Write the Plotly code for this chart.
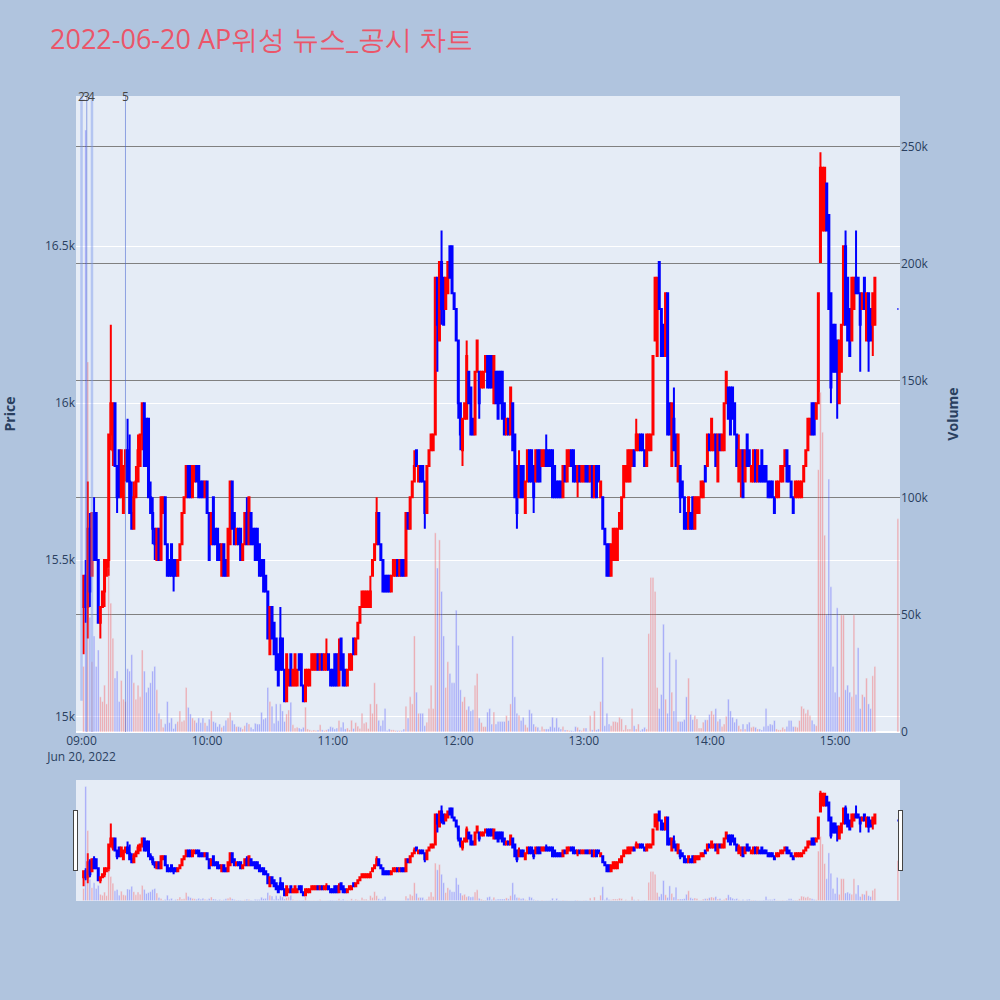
import pandas as pd
import plotly.graph_objects as go
from plotly.subplots import make_subplots

# 1-minute candles 09:01 ~ 15:19, plus the 15:30 closing auction
times = list(pd.date_range("2022-06-20 09:01", "2022-06-20 15:19", freq="min")) + [pd.Timestamp("2022-06-20 15:30")]

opens = [
    15350, 15450, 15350, 15600, 15450, 15650, 15650, 15500, 15300, 15350,
    15400, 15450, 15500, 15900, 15850, 16000, 15800, 15850, 15700, 15650,
    15800, 15850, 15750, 15650, 15600, 15700, 15750, 15800, 15900, 16000,
    15950, 15950, 15700, 15650, 15600, 15500, 15600, 15500, 15650, 15700,
    15550, 15500, 15550, 15500, 15500, 15450, 15500, 15550, 15650, 15700,
    15800, 15800, 15700, 15750, 15800, 15800, 15750, 15750, 15700, 15750,
    15650, 15550, 15700, 15600, 15600, 15550, 15450, 15550, 15500, 15450,
    15550, 15750, 15650, 15550, 15600, 15600, 15500, 15550, 15650, 15550,
    15650, 15600, 15600, 15600, 15550, 15500, 15500, 15450, 15400, 15200,
    15350, 15300, 15250, 15200, 15250, 15250, 15150, 15050, 15100, 15200,
    15100, 15100, 15100, 15200, 15200, 15100, 15050, 15100, 15100, 15150,
    15150, 15150, 15200, 15150, 15200, 15150, 15150, 15200, 15150, 15150,
    15200, 15200, 15100, 15250, 15200, 15150, 15100, 15150, 15150, 15250,
    15200, 15250, 15300, 15350, 15350, 15350, 15350, 15350, 15450, 15500,
    15550, 15650, 15550, 15500, 15450, 15450, 15450, 15400, 15450, 15450,
    15500, 15450, 15500, 15500, 15450, 15650, 15600, 15700, 15750, 15850,
    15750, 15800, 15800, 15750, 15650, 15800, 15850, 15850, 15900, 16400,
    16200, 16450, 16400, 16300, 16350, 16500, 16500, 16350, 16300, 16200,
    16000, 15850, 15950, 15950, 16100, 16050, 15950, 15900, 16100, 16100,
    16050, 16050, 16100, 16150, 16150, 16150, 16000, 16100, 16100, 16100,
    16100, 16000, 15900, 15950, 15900, 16000, 15900, 15800, 15700, 15800,
    15800, 15650, 15750, 15850, 15850, 15800, 15750, 15850, 15850, 15800,
    15800, 15850, 15850, 15850, 15850, 15800, 15750, 15750, 15750, 15700,
    15800, 15750, 15800, 15850, 15850, 15800, 15750, 15800, 15750, 15750,
    15800, 15800, 15750, 15800, 15700, 15800, 15800, 15700, 15700, 15600,
    15550, 15550, 15450, 15500, 15500, 15500, 15600, 15600, 15700, 15750,
    15750, 15750, 15800, 15850, 15850, 15850, 15900, 15900, 15850, 15800,
    15850, 15850, 15900, 16200, 16150, 16450, 16300, 16250, 16150, 16350,
    16000, 15800, 15950, 15900, 15750, 15800, 15750, 15700, 15650, 15600,
    15650, 15700, 15600, 15650, 15650, 15700, 15700, 15800, 15800, 15900,
    15850, 15850, 15900, 15750, 15900, 15850, 15850, 16000, 16050, 16050,
    16050, 16000, 15900, 15750, 15800, 15850, 15750, 15900, 15850, 15750,
    15750, 15850, 15750, 15800, 15850, 15800, 15800, 15750, 15750, 15750,
    15700, 15700, 15700, 15750, 15750, 15800, 15850, 15800, 15750, 15700,
    15700, 15700, 15700, 15700, 15750, 15800, 15850, 15900, 16000, 16000,
    15950, 16000, 16450, 16550, 16550, 16700, 16600, 16350, 16250, 16250,
    16200, 16000, 16100, 16250, 16500, 16400, 16300, 16200, 16300, 16400,
    16400, 16350, 16300, 16400, 16200, 16350, 16300, 16250, 16250,
    16300,
]

highs = [
    15450, 15500, 15750, 15650, 15650, 15700, 15650, 15500, 15350, 15400,
    15500, 15500, 15900, 16250, 16000, 16000, 15800, 15850, 15850, 15800,
    15850, 15950, 15900, 15750, 15750, 15800, 15900, 15900, 16000, 16000,
    15950, 15950, 15750, 15700, 15600, 15600, 15600, 15700, 15700, 15700,
    15550, 15500, 15550, 15500, 15500, 15500, 15550, 15650, 15700, 15800,
    15800, 15800, 15800, 15800, 15800, 15800, 15750, 15750, 15750, 15750,
    15650, 15650, 15700, 15600, 15600, 15550, 15550, 15550, 15500, 15600,
    15750, 15750, 15650, 15600, 15600, 15600, 15550, 15650, 15700, 15700,
    15650, 15600, 15600, 15600, 15550, 15500, 15500, 15450, 15400, 15350,
    15350, 15300, 15250, 15200, 15350, 15250, 15150, 15200, 15150, 15200,
    15150, 15200, 15150, 15200, 15200, 15100, 15150, 15150, 15150, 15200,
    15200, 15200, 15200, 15200, 15200, 15200, 15250, 15200, 15150, 15150,
    15200, 15200, 15250, 15250, 15200, 15150, 15150, 15200, 15200, 15250,
    15250, 15300, 15350, 15400, 15400, 15400, 15400, 15450, 15500, 15550,
    15700, 15650, 15550, 15500, 15450, 15450, 15450, 15450, 15500, 15500,
    15500, 15500, 15500, 15500, 15650, 15650, 15700, 15750, 15850, 15850,
    15800, 15800, 15800, 15750, 15800, 15850, 15900, 15900, 16400, 16400,
    16450, 16550, 16400, 16400, 16450, 16500, 16500, 16350, 16300, 16200,
    16000, 15950, 16000, 16200, 16100, 16050, 15950, 16100, 16200, 16100,
    16100, 16100, 16150, 16150, 16150, 16150, 16150, 16100, 16100, 16100,
    16100, 16000, 15950, 15950, 16050, 16000, 15900, 15800, 15850, 15800,
    15800, 15750, 15850, 15850, 15850, 15800, 15850, 15850, 15850, 15850,
    15850, 15900, 15850, 15850, 15850, 15800, 15750, 15750, 15750, 15800,
    15800, 15850, 15850, 15850, 15850, 15800, 15800, 15800, 15800, 15800,
    15800, 15800, 15800, 15800, 15800, 15800, 15800, 15750, 15700, 15600,
    15550, 15550, 15550, 15600, 15600, 15600, 15650, 15700, 15800, 15800,
    15850, 15850, 15850, 15850, 15950, 15900, 15900, 15900, 15850, 15900,
    15900, 15900, 16150, 16400, 16400, 16450, 16300, 16250, 16350, 16350,
    16000, 16000, 16050, 15900, 15900, 15800, 15750, 15700, 15650, 15700,
    15650, 15700, 15700, 15700, 15700, 15750, 15750, 15800, 15900, 15900,
    15950, 15900, 15900, 15900, 15900, 15900, 16000, 16100, 16050, 16050,
    16050, 16000, 15900, 15900, 15850, 15850, 15850, 15900, 15850, 15800,
    15850, 15850, 15850, 15800, 15850, 15800, 15800, 15750, 15750, 15750,
    15700, 15750, 15750, 15800, 15800, 15850, 15850, 15800, 15750, 15700,
    15750, 15750, 15750, 15750, 15800, 15850, 15950, 15950, 16000, 16000,
    16000, 16350, 16800, 16750, 16750, 16700, 16600, 16350, 16250, 16250,
    16200, 16200, 16250, 16500, 16550, 16400, 16300, 16400, 16400, 16550,
    16400, 16350, 16350, 16400, 16350, 16350, 16300, 16350, 16400,
    16300,
]

lows = [
    15200, 15300, 15250, 15350, 15450, 15500, 15500, 15300, 15250, 15350,
    15350, 15450, 15450, 15850, 15800, 15800, 15650, 15700, 15700, 15650,
    15750, 15750, 15650, 15600, 15600, 15700, 15750, 15800, 15850, 15800,
    15800, 15700, 15650, 15550, 15500, 15500, 15500, 15500, 15650, 15550,
    15450, 15450, 15450, 15400, 15450, 15450, 15500, 15550, 15650, 15700,
    15700, 15700, 15700, 15750, 15750, 15700, 15700, 15700, 15700, 15650,
    15500, 15550, 15550, 15550, 15500, 15500, 15450, 15450, 15450, 15450,
    15550, 15600, 15550, 15550, 15550, 15500, 15500, 15550, 15550, 15550,
    15550, 15550, 15500, 15500, 15450, 15450, 15400, 15400, 15250, 15200,
    15250, 15200, 15150, 15100, 15150, 15150, 15050, 15050, 15100, 15100,
    15100, 15100, 15100, 15150, 15100, 15050, 15050, 15100, 15100, 15150,
    15150, 15150, 15150, 15150, 15150, 15150, 15150, 15150, 15100, 15100,
    15100, 15100, 15100, 15150, 15100, 15100, 15100, 15150, 15150, 15200,
    15200, 15250, 15300, 15350, 15350, 15350, 15350, 15350, 15450, 15500,
    15550, 15550, 15500, 15400, 15400, 15400, 15400, 15400, 15450, 15450,
    15450, 15450, 15450, 15450, 15450, 15600, 15600, 15700, 15750, 15800,
    15750, 15750, 15750, 15600, 15650, 15800, 15850, 15850, 15900, 16100,
    16200, 16250, 16250, 16300, 16350, 16400, 16350, 16300, 16200, 15950,
    15850, 15800, 15950, 15950, 16000, 15900, 15900, 15900, 16100, 15950,
    16050, 16050, 16100, 16050, 16050, 16050, 16000, 16000, 15950, 16000,
    15950, 15900, 15900, 15900, 15900, 15850, 15700, 15600, 15700, 15700,
    15700, 15650, 15750, 15750, 15750, 15650, 15750, 15750, 15750, 15800,
    15800, 15800, 15800, 15800, 15700, 15700, 15700, 15700, 15700, 15700,
    15750, 15750, 15800, 15800, 15750, 15750, 15700, 15750, 15750, 15750,
    15750, 15750, 15750, 15700, 15700, 15700, 15750, 15700, 15600, 15550,
    15450, 15450, 15450, 15500, 15500, 15500, 15600, 15600, 15700, 15750,
    15750, 15750, 15800, 15800, 15850, 15850, 15850, 15850, 15800, 15800,
    15850, 15850, 15900, 16200, 16150, 16300, 16150, 16150, 16150, 15900,
    15900, 15800, 15850, 15800, 15750, 15650, 15700, 15600, 15600, 15600,
    15600, 15600, 15600, 15650, 15650, 15700, 15700, 15750, 15800, 15850,
    15850, 15850, 15800, 15750, 15850, 15850, 15850, 16000, 15950, 15900,
    15950, 15900, 15800, 15750, 15700, 15700, 15750, 15800, 15800, 15750,
    15750, 15750, 15750, 15750, 15750, 15750, 15750, 15700, 15700, 15700,
    15650, 15700, 15700, 15750, 15750, 15800, 15750, 15750, 15700, 15650,
    15700, 15700, 15700, 15700, 15750, 15800, 15850, 15900, 15900, 15900,
    15950, 16000, 16450, 16550, 16550, 16550, 16300, 16000, 16100, 16100,
    15950, 16000, 16100, 16250, 16250, 16200, 16150, 16200, 16300, 16350,
    16350, 16100, 16300, 16300, 16200, 16100, 16200, 16150, 16250,
    16300,
]

closes = [
    15450, 15350, 15600, 15400, 15650, 15500, 15500, 15300, 15350, 15400,
    15500, 15500, 15900, 16000, 16000, 15800, 15700, 15700, 15850, 15800,
    15850, 15750, 15650, 15600, 15700, 15750, 15850, 15900, 16000, 15800,
    15800, 15700, 15650, 15600, 15550, 15600, 15500, 15700, 15700, 15550,
    15450, 15450, 15450, 15450, 15450, 15500, 15550, 15650, 15700, 15800,
    15700, 15700, 15800, 15800, 15750, 15700, 15700, 15700, 15750, 15650,
    15500, 15650, 15550, 15550, 15500, 15500, 15550, 15450, 15450, 15600,
    15750, 15600, 15550, 15600, 15550, 15500, 15550, 15650, 15550, 15700,
    15550, 15550, 15500, 15500, 15450, 15450, 15400, 15400, 15250, 15350,
    15250, 15200, 15150, 15100, 15150, 15150, 15050, 15200, 15150, 15100,
    15150, 15200, 15150, 15150, 15100, 15050, 15150, 15150, 15150, 15200,
    15200, 15200, 15150, 15200, 15150, 15200, 15200, 15150, 15100, 15100,
    15100, 15100, 15200, 15150, 15100, 15100, 15150, 15200, 15200, 15200,
    15250, 15300, 15350, 15400, 15400, 15400, 15400, 15400, 15500, 15550,
    15650, 15550, 15500, 15400, 15400, 15400, 15400, 15450, 15500, 15500,
    15450, 15500, 15450, 15450, 15650, 15600, 15700, 15750, 15800, 15800,
    15800, 15750, 15750, 15650, 15800, 15850, 15900, 15900, 16400, 16250,
    16450, 16300, 16250, 16400, 16450, 16400, 16350, 16300, 16200, 16000,
    15900, 15950, 16000, 16150, 16000, 15900, 15900, 16100, 16200, 16000,
    16100, 16100, 16150, 16050, 16050, 16050, 16150, 16000, 15950, 16000,
    15950, 15900, 15950, 15900, 16050, 15850, 15700, 15650, 15800, 15700,
    15700, 15750, 15850, 15750, 15750, 15700, 15850, 15750, 15750, 15850,
    15850, 15800, 15800, 15800, 15700, 15700, 15700, 15700, 15700, 15800,
    15750, 15850, 15850, 15800, 15750, 15750, 15800, 15750, 15800, 15800,
    15750, 15750, 15800, 15700, 15800, 15700, 15750, 15750, 15600, 15550,
    15450, 15450, 15550, 15600, 15600, 15600, 15650, 15700, 15800, 15800,
    15850, 15850, 15850, 15800, 15900, 15900, 15850, 15850, 15800, 15900,
    15900, 15900, 16150, 16400, 16400, 16300, 16150, 16150, 16350, 15900,
    15900, 16000, 15850, 15800, 15900, 15700, 15700, 15600, 15600, 15700,
    15600, 15600, 15700, 15700, 15700, 15750, 15750, 15750, 15900, 15850,
    15950, 15900, 15800, 15900, 15850, 15900, 16000, 16100, 15950, 15900,
    15950, 15900, 15800, 15850, 15850, 15700, 15850, 15800, 15800, 15800,
    15850, 15750, 15850, 15750, 15750, 15750, 15750, 15700, 15700, 15700,
    15650, 15750, 15750, 15800, 15800, 15850, 15750, 15750, 15700, 15650,
    15750, 15750, 15750, 15750, 15800, 15850, 15950, 15950, 15900, 15900,
    16000, 16350, 16750, 16750, 16750, 16550, 16300, 16050, 16100, 16100,
    16100, 16200, 16250, 16500, 16250, 16200, 16150, 16400, 16400, 16350,
    16350, 16250, 16350, 16300, 16350, 16200, 16200, 16350, 16400,
    16300,
]

volumes = [
    28000, 257000, 158000, 49000, 30000, 41000, 28000, 35000, 15000, 13000,
    20000, 12000, 70000, 55000, 40000, 23000, 26000, 13000, 22000, 14000,
    13000, 27000, 26000, 33000, 21000, 14000, 20000, 15000, 35000, 26000,
    17000, 19000, 21000, 26000, 28000, 18000, 8000, 5500, 2000, 3500,
    13000, 4000, 6000, 1500, 3500, 4500, 9000, 4500, 5000, 19000,
    10500, 7700, 6000, 5000, 4000, 6000, 4000, 6000, 4000, 2700,
    5500, 9000, 4500, 4000, 2300, 3400, 2000, 2700, 5000, 6000,
    8400, 5000, 3400, 2300, 2300, 2000, 1300, 2700, 4000, 3400,
    2000, 1300, 3700, 3400, 3400, 8400, 5500, 6000, 19000, 13000,
    11000, 3700, 12000, 4800, 12000, 9000, 4500, 7700, 9400, 12700,
    3100, 1700, 2000, 1700, 1300, 2000, 10600, 1300, 900, 600,
    900, 600, 900, 3100, 900, 600, 900, 1300, 2300, 2000,
    1300, 1700, 4900, 2000, 4200, 1300, 1700, 900, 5000, 1500,
    4000, 2500, 1500, 8000, 3700, 4200, 1500, 12000, 8000, 21000,
    12000, 5000, 2700, 5000, 10000, 600, 1300, 900, 900, 600,
    600, 600, 600, 1300, 11000, 6000, 15000, 12000, 41000, 17000,
    8000, 8000, 8000, 2700, 4200, 10000, 20000, 10000, 85000, 70000,
    82000, 60000, 41000, 19000, 30000, 25000, 21000, 21000, 52000, 37000,
    18000, 13000, 15000, 9500, 11000, 9000, 9500, 20000, 25000, 6000,
    4000, 2300, 2300, 8500, 10000, 3400, 8500, 3400, 4500, 4500,
    4500, 4500, 7000, 4900, 12000, 41000, 15000, 8000, 7200, 4900,
    6300, 3100, 2000, 9500, 8000, 3400, 2300, 2000, 600, 2300,
    1300, 1300, 1300, 2300, 6300, 2000, 6000, 2000, 1300, 2300,
    900, 900, 600, 600, 400, 2300, 2000, 900, 600, 1700,
    1700, 300, 7000, 900, 9000, 900, 1300, 13000, 32000, 2700,
    8000, 3400, 2700, 4500, 4500, 4200, 6300, 5600, 900, 3000,
    1300, 1300, 10000, 2700, 1300, 3400, 600, 1300, 2000, 1300,
    42000, 66000, 66000, 60000, 19000, 10000, 16000, 46000, 14000, 8000,
    34000, 17000, 9000, 31000, 4500, 4500, 4500, 5300, 15000, 23000,
    7500, 5300, 7000, 5600, 1700, 1700, 4200, 5200, 5200, 7500,
    9000, 7500, 10000, 4600, 5600, 2300, 3400, 6700, 14000, 9000,
    6300, 4200, 5600, 2700, 1300, 3400, 1300, 3400, 4200, 2000,
    2300, 2000, 1300, 1300, 900, 2300, 10000, 2700, 3400, 3100,
    4900, 1300, 900, 900, 2000, 1300, 2300, 4900, 4900, 2300,
    2300, 2000, 4900, 11000, 10000, 8000, 9500, 7000, 5000, 3400,
    2700, 112000, 145000, 128000, 84000, 50000, 108000, 62000, 28000, 17000,
    53000, 15000, 50000, 50000, 18000, 20000, 17000, 15000, 50000, 16000,
    36000, 10000, 16000, 15000, 23000, 12000, 10000, 24000, 28000,
    91000,
]

# news / disclosure markers
news_times = ["2022-06-20 09:00:00", "2022-06-20 09:02:30", "2022-06-20 09:05:00", "2022-06-20 09:21:00"]
news_labels = ["2", "3", "4", "5"]

vol_colors = ["red" if c >= o else "blue" for o, c in zip(opens, closes)]

fig = make_subplots(specs=[[{"secondary_y": True}]])

fig.add_trace(go.Candlestick(
    x=times, open=opens, high=highs, low=lows, close=closes,
    increasing=dict(line=dict(color="red", width=2), fillcolor="red"),
    decreasing=dict(line=dict(color="blue", width=2), fillcolor="blue"),
    name="Price"), secondary_y=False)

fig.add_trace(go.Bar(x=times, y=volumes, marker_color=vol_colors, opacity=0.3,
                     name="Volume"), secondary_y=True)

# vertical news lines
line_styles = [dict(color="rgba(120,150,235,0.45)", width=2.5),
               dict(color="rgba(70,100,210,0.55)", width=1),
               dict(color="rgba(120,150,235,0.45)", width=2.5),
               dict(color="rgba(70,100,210,0.55)", width=1)]
for t, lab, ls in zip(news_times, news_labels, line_styles):
    if lab == "2":
        fig.add_shape(type="line", xref="x", yref="y2", x0=t, x1=t, y0=13300, y1=271500, line=ls)
    else:
        fig.add_shape(type="line", xref="x", yref="paper", x0=t, x1=t, y0=0, y1=1, line=ls)
    fig.add_annotation(x=t, y=1, xref="x", yref="paper", text=lab, showarrow=False,
                       yanchor="middle", font=dict(size=12, color="#444"))

fig.update_layout(
    title=dict(text="2022-06-20 AP위성 뉴스_공시 차트", font=dict(size=27, color="rgb(235,85,105)"),
               x=0.05, xanchor="left", y=0.96, yanchor="middle"),
    paper_bgcolor="lightsteelblue",
    width=1000, height=1000,
    margin=dict(l=76, r=100, t=96, b=100),
    showlegend=False,
)
fig.update_xaxes(domain=[0, 1], range=["2022-06-20 08:57:22", "2022-06-20 15:31:00"],
                 showgrid=False, automargin=False,
                 rangeslider=dict(visible=True, bgcolor="#E5ECF6"))
fig.update_yaxes(title_text="<b>Price</b>", title_font=dict(size=14), title_standoff=33, automargin=False,
                 range=[14952, 16979], secondary_y=False)
fig.update_yaxes(title_text="<b>Volume</b>", title_font=dict(size=14), title_standoff=20, automargin=False,
                 range=[0, 271500], gridcolor="gray", secondary_y=True)

# the page's default 8px body margin would push the 1000px figure off the window
fig.write_html("out.html", config={"displayModeBar": False},
               post_script="document.body.style.margin = '0';")
